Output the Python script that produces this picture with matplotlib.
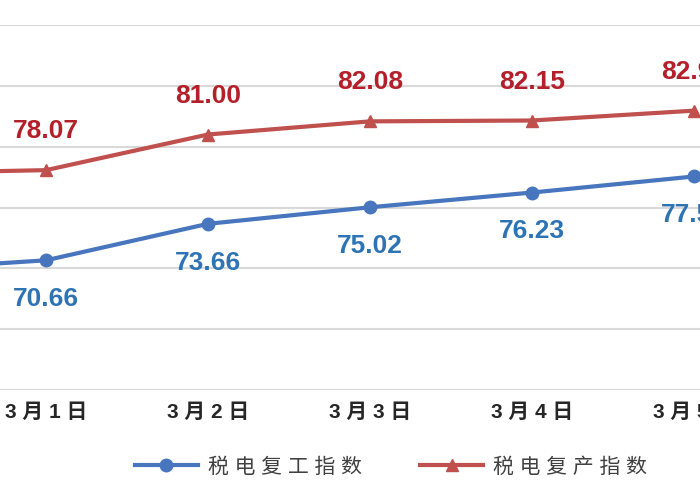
import matplotlib
matplotlib.use("Agg")
import matplotlib.pyplot as plt
from matplotlib.lines import Line2D

categories = ["2月29日", "3月1日", "3月2日", "3月3日", "3月4日", "3月5日"]
tick_labels = ["2 月 29 日", "3 月 1 日", "3 月 2 日", "3 月 3 日", "3 月 4 日", "3 月 5 日"]
work_index = [69.8, 70.66, 73.66, 75.02, 76.23, 77.55]      # 税电复工指数
prod_index = [77.8, 78.07, 81.00, 82.08, 82.15, 82.96]      # 税电复产指数
work_name = "税 电 复 工 指 数"
prod_name = "税 电 复 产 指 数"

blue = "#4775BE"
red = "#C0504D"
blue_lbl = "#2E74B5"
red_lbl = "#B3202A"

fig = plt.figure(figsize=(7, 5), dpi=100)
ax = fig.add_axes([0, 0.22, 1, 0.73])

x = list(range(len(categories)))
ax.plot(x, work_index, color=blue, lw=3, marker="o", ms=9, zorder=3)
ax.plot(x, prod_index, color=red, lw=3, marker="^", ms=8, zorder=3)

num_font = ["Liberation Sans", "Noto Sans CJK SC"]
for xi, v in zip(x, work_index):
    ax.annotate(f"{v:.2f}", (xi, v), xytext=(0, -28), textcoords="offset points",
                ha="center", va="center", fontsize=19, fontweight="bold",
                color=blue_lbl, family=num_font)
for xi, v in zip(x, prod_index):
    ax.annotate(f"{v:.2f}", (xi, v), xytext=(0, 28), textcoords="offset points",
                ha="center", va="center", fontsize=19, fontweight="bold",
                color=red_lbl, family=num_font)

ax.set_yticks([60, 65, 70, 75, 80, 85, 90])
ax.set_yticklabels([])
ax.tick_params(axis="y", length=0)
ax.set_xticks(x)
ax.set_xticklabels(tick_labels, fontsize=15, fontweight="bold", color="#262626",
                   family=num_font)
ax.tick_params(axis="x", length=0, pad=9)
ax.set_xlim(0.716, 5.037)
ax.set_ylim(60, 90)
ax.grid(axis="y", color="#D9D9D9", lw=1.5)
ax.set_axisbelow(True)
for s in ax.spines.values():
    s.set_visible(False)

handles = [Line2D([], [], color=blue, lw=3, marker="o", ms=9),
           Line2D([], [], color=red, lw=3, marker="^", ms=8)]
fig.legend(handles, [work_name, prod_name], loc="center", bbox_to_anchor=(0.559, 0.066),
           ncol=2, frameon=False, handlelength=3.0, handletextpad=0.5,
           columnspacing=2.8, prop={"family": ["Liberation Sans", "Noto Sans CJK SC"], "size": 15},
           labelcolor="#404040")

fig.savefig("out.png", dpi=100)
